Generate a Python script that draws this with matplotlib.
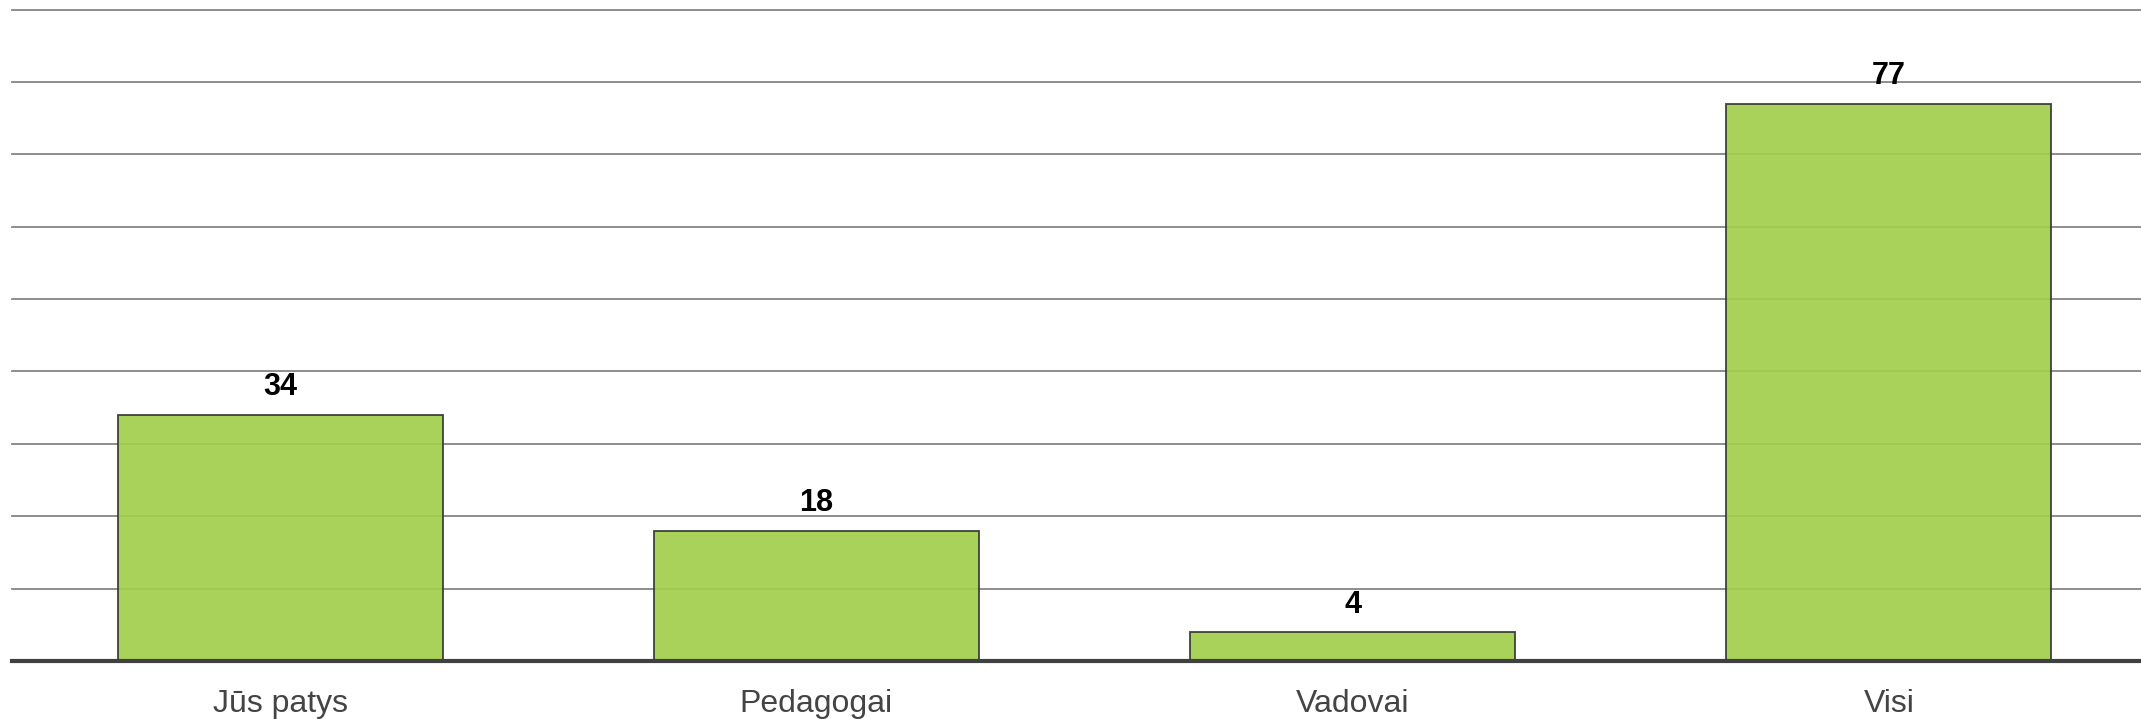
import matplotlib
matplotlib.use("Agg")
import matplotlib.pyplot as plt

plt.rcParams["font.family"] = ["Liberation Sans", "DejaVu Sans"]

# data
categories = ["Jūs patys", "Pedagogai", "Vadovai", "Visi"]
values = [34, 18, 4, 77]

BAR = "#a2cf4c"
EDGE = "#333333"
GRID = "#858585"

W, H, DPI = 2141, 719, 100
fig = plt.figure(figsize=(W / DPI, H / DPI), dpi=DPI)
left, right = 12 / W, 1.0
bottom, top = 1 - 661 / H, 1 - 9.6 / H
ax = fig.add_axes([left, bottom, right - left, top - bottom])

x = list(range(len(categories)))
bars = ax.bar(x, values, width=0.606, color=BAR, edgecolor=EDGE,
              linewidth=1.3, alpha=0.92, zorder=3)

for b, v in zip(bars, values):
    ax.annotate(str(v), (b.get_x() + b.get_width() / 2, b.get_height()),
                xytext=(0, 9), textcoords="offset points",
                ha="center", va="bottom", fontsize=22, fontweight="bold",
                color="black", zorder=4)

ax.set_xlim(-0.5, 3.47)
ax.set_ylim(0, 90)
ax.set_yticks(range(0, 91, 10))
ax.yaxis.grid(True, color=GRID, linewidth=1.3, zorder=1)
for gl in ax.get_ygridlines():
    gl.set_clip_on(False)
ax.set_axisbelow(True)
ax.tick_params(axis="y", left=False, labelleft=False)
ax.tick_params(axis="x", bottom=False, pad=17, labelsize=23, labelcolor="#444444")
ax.set_xticks(x)
ax.set_xticklabels(categories)

for s in ["top", "right", "left"]:
    ax.spines[s].set_visible(False)
ax.spines["bottom"].set_color("#404040")
ax.spines["bottom"].set_linewidth(3)
ax.spines["bottom"].set_zorder(5)

fig.savefig("out.png", dpi=DPI)
